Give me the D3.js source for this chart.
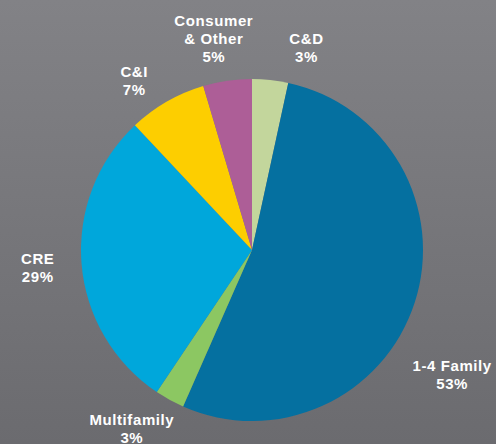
<!DOCTYPE html>
<html>
<head>
<meta charset="utf-8">
<script src="https://cdn.jsdelivr.net/npm/d3@7"></script>
<style>
  html, body { margin: 0; padding: 0; background: #77777b; }
  svg { display: block; }
</style>
</head>
<body>
<div id="chart"></div>
<script>
// loan portfolio mix, clockwise from 12 o'clock
const categories = ["C&D", "1-4 Family", "Multifamily", "CRE", "C&I", "Consumer\n& Other"]
const values = [3.4, 53.2, 2.8, 28.6, 7.4, 4.6]
const pctLabels = ["3%", "53%", "3%", "29%", "7%", "5%"]
const colours = ["#c3d69c", "#0570a0", "#8cc762", "#00a7db", "#fdce00", "#ad5e97"]

// label placement tweaks: [angle shift in degrees, radius]
const labelNudge = {
    "C&D": [9, 209],
    "1-4 Family": [14, 236],
    "Multifamily": [5, 216],
    "CRE": [0, 215],
    "C&I": [-5, 206],
    "Consumer\n& Other": [-2, 214]
}

const width = 496
const height = 444
const cx = 252, cy = 250
const radius = 171
const lineHeight = 18

const data = categories.map((c, i) => ({ name: c, value: values[i], pct: pctLabels[i], colour: colours[i] }))

const svg = d3.select("#chart").append("svg")
    .attr("width", width)
    .attr("height", height)
    .attr("viewBox", [0, 0, width, height])

const defs = svg.append("defs")
const grad = defs.append("linearGradient")
    .attr("id", "bg")
    .attr("x1", 0).attr("y1", 0).attr("x2", 0).attr("y2", 1)
grad.append("stop").attr("offset", "0%").attr("stop-color", "#828286")
grad.append("stop").attr("offset", "100%").attr("stop-color", "#6b6b6f")

svg.append("rect")
    .attr("width", width)
    .attr("height", height)
    .attr("fill", "url(#bg)")

const pie = d3.pie()
    .value(d => d.value)
    .sort(null)

const arc = d3.arc()
    .innerRadius(0)
    .outerRadius(radius)

const arcs = pie(data)

const g = svg.append("g").attr("transform", `translate(${cx},${cy})`)

g.selectAll("path")
    .data(arcs)
    .join("path")
    .attr("d", arc)
    .attr("fill", d => d.data.colour)

// labels
const labels = g.selectAll("text")
    .data(arcs)
    .join("text")
    .attr("fill", "#ffffff")
    .attr("font-family", "'Liberation Sans', Arial, sans-serif")
    .attr("font-weight", "bold")
    .attr("font-size", 15)
    .attr("letter-spacing", "0.6px")
    .attr("text-anchor", "middle")
    .each(function (d) {
        const nudge = labelNudge[d.data.name] || [0, 212]
        const a = (d.startAngle + d.endAngle) / 2 + nudge[0] * Math.PI / 180
        const x = Math.sin(a) * nudge[1]
        const y = -Math.cos(a) * nudge[1]
        const lines = d.data.name.split("\n").concat([d.data.pct])
        const top = y - (lines.length - 1) * lineHeight / 2 + 5
        const text = d3.select(this)
        lines.forEach((l, i) => {
            text.append("tspan")
                .attr("x", x)
                .attr("y", top + i * lineHeight)
                .text(l)
        })
    })
</script>
</body>
</html>
